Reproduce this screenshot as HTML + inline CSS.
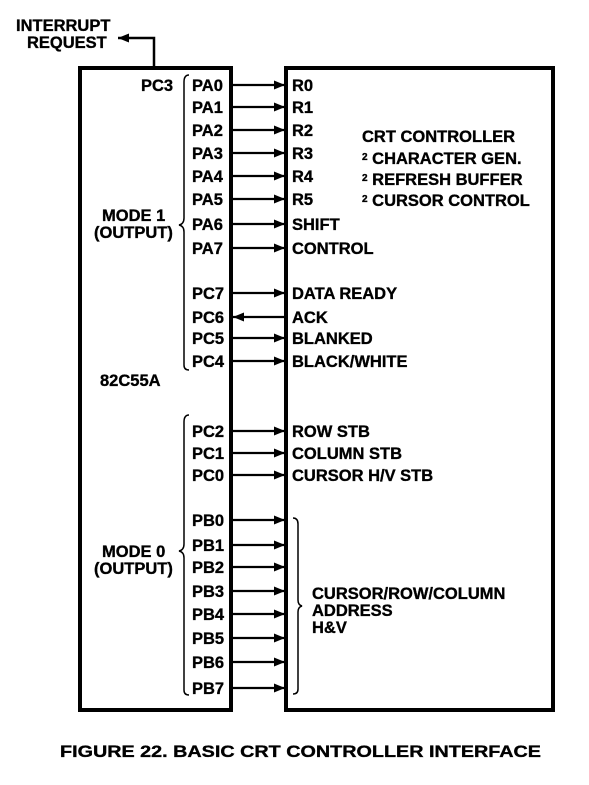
<!DOCTYPE html>
<html><head><meta charset="utf-8"><style>
html,body{margin:0;padding:0;background:#fff;}
svg{display:block}
text{font-family:"Liberation Sans",Arial,sans-serif;font-weight:bold;fill:#000;font-size:16.5px;stroke:#000;stroke-width:0.35}
</style></head><body>
<svg width="589" height="785" viewBox="0 0 589 785" xmlns="http://www.w3.org/2000/svg">
<defs><marker id="ah" markerWidth="11" markerHeight="9" refX="11" refY="4.5" orient="auto" markerUnits="userSpaceOnUse"><path d="M0,0 L11,4.5 L0,9 Z" fill="#000"/></marker></defs>
<rect x="80" y="68" width="151" height="642" fill="none" stroke="#000" stroke-width="4"/>
<rect x="286" y="68" width="267" height="642" fill="none" stroke="#000" stroke-width="4"/>
<polyline points="154,66 154,38 118,38" fill="none" stroke="#000" stroke-width="2.5" marker-end="url(#ah)"/>
<text x="16" y="31">INTERRUPT</text>
<text x="27" y="48">REQUEST</text>
<text x="141" y="91">PC3</text>
<text x="102" y="221">MODE 1</text>
<text x="94" y="238">(OUTPUT)</text>
<text x="102" y="557">MODE 0</text>
<text x="94" y="574">(OUTPUT)</text>
<text x="100" y="386">82C55A</text>
<path d="M189,75 Q184,75 184,82 L184,218 Q184,224 179,225 Q184,226 184,232 L184,365 Q184,370 189,370" fill="none" stroke="#000" stroke-width="1.5"/>
<path d="M189,415 Q184,415 184,422 L184,544 Q184,550 179,551 Q184,552 184,558 L184,690 Q184,695 189,695" fill="none" stroke="#000" stroke-width="1.5"/>
<path d="M293,518 Q298,518 298,524 L298,600 Q298,605 302,606 Q298,607 298,612 L298,689 Q298,694 293,694" fill="none" stroke="#000" stroke-width="1.5"/>
<g>
<text x="192" y="91">PA0</text><text x="292" y="91">R0</text>
<text x="192" y="113">PA1</text><text x="292" y="113">R1</text>
<text x="192" y="136">PA2</text><text x="292" y="136">R2</text>
<text x="192" y="159">PA3</text><text x="292" y="159">R3</text>
<text x="192" y="182">PA4</text><text x="292" y="182">R4</text>
<text x="192" y="205">PA5</text><text x="292" y="205">R5</text>
<text x="192" y="230">PA6</text><text x="292" y="230">SHIFT</text>
<text x="192" y="254">PA7</text><text x="292" y="254">CONTROL</text>
<text x="192" y="299">PC7</text><text x="292" y="299">DATA READY</text>
<text x="192" y="323">PC6</text><text x="292" y="323">ACK</text>
<text x="192" y="344">PC5</text><text x="292" y="344">BLANKED</text>
<text x="192" y="367">PC4</text><text x="292" y="367">BLACK/WHITE</text>
<text x="192" y="437">PC2</text><text x="292" y="437">ROW STB</text>
<text x="192" y="459">PC1</text><text x="292" y="459">COLUMN STB</text>
<text x="192" y="481">PC0</text><text x="292" y="481">CURSOR H/V STB</text>
<text x="192" y="526">PB0</text>
<text x="192" y="551">PB1</text>
<text x="192" y="573">PB2</text>
<text x="192" y="597">PB3</text>
<text x="192" y="620">PB4</text>
<text x="192" y="644">PB5</text>
<text x="192" y="668">PB6</text>
<text x="192" y="694">PB7</text>
</g>
<g stroke="#000" stroke-width="2.2" marker-end="url(#ah)">
<line x1="232" y1="85" x2="285" y2="85"/>
<line x1="232" y1="107" x2="285" y2="107"/>
<line x1="232" y1="130" x2="285" y2="130"/>
<line x1="232" y1="153" x2="285" y2="153"/>
<line x1="232" y1="176" x2="285" y2="176"/>
<line x1="232" y1="199" x2="285" y2="199"/>
<line x1="232" y1="224" x2="285" y2="224"/>
<line x1="232" y1="248" x2="285" y2="248"/>
<line x1="232" y1="293" x2="285" y2="293"/>
<line x1="285" y1="317" x2="233" y2="317"/>
<line x1="232" y1="338" x2="285" y2="338"/>
<line x1="232" y1="361" x2="285" y2="361"/>
<line x1="232" y1="431" x2="285" y2="431"/>
<line x1="232" y1="453" x2="285" y2="453"/>
<line x1="232" y1="475" x2="285" y2="475"/>
<line x1="232" y1="520" x2="285" y2="520"/>
<line x1="232" y1="545" x2="285" y2="545"/>
<line x1="232" y1="567" x2="285" y2="567"/>
<line x1="232" y1="591" x2="285" y2="591"/>
<line x1="232" y1="614" x2="285" y2="614"/>
<line x1="232" y1="638" x2="285" y2="638"/>
<line x1="232" y1="662" x2="285" y2="662"/>
<line x1="232" y1="688" x2="285" y2="688"/>
</g>
<text x="362" y="142">CRT CONTROLLER</text>
<text x="362" y="164"><tspan font-size="10" dy="-4">2</tspan><tspan dy="4"> CHARACTER GEN.</tspan></text>
<text x="362" y="185"><tspan font-size="10" dy="-4">2</tspan><tspan dy="4"> REFRESH BUFFER</tspan></text>
<text x="362" y="206"><tspan font-size="10" dy="-4">2</tspan><tspan dy="4"> CURSOR CONTROL</tspan></text>
<text x="312" y="599">CURSOR/ROW/COLUMN</text>
<text x="312" y="616">ADDRESS</text>
<text x="312" y="633">H&amp;V</text>
<text x="60" y="757" font-size="18" textLength="481" lengthAdjust="spacingAndGlyphs">FIGURE 22.  BASIC CRT CONTROLLER INTERFACE</text>
</svg>
</body></html>
